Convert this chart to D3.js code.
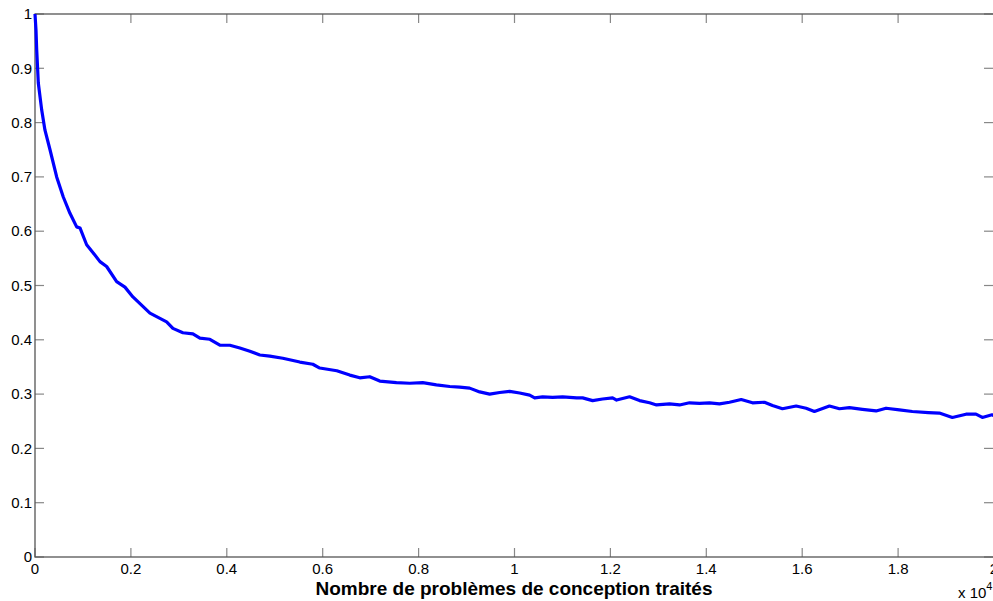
<!DOCTYPE html>
<html>
<head>
<meta charset="utf-8">
<script src="https://cdn.jsdelivr.net/npm/d3@7"></script>
<style>
  html, body { margin: 0; padding: 0; background: #fff; overflow: hidden; }
  svg { display: block; font-family: "Liberation Sans", Arial, sans-serif; }
</style>
</head>
<body>
<svg id="chart" width="993" height="601"></svg>
<script>
// Number of design problems processed
const problemsTreated = [
  0, 21, 35, 69, 140, 208, 313, 452, 590, 729, 869, 938, 1077, 1215, 1355, 1494, 1703, 1876, 2042,
  2397, 2745, 2876, 3084, 3293, 3439, 3647, 3855, 4064, 4272, 4481, 4689, 4897, 5168, 5523, 5794,
  5939, 6294, 6565, 6773, 6981, 7190, 7538, 7815, 8086, 8371, 8649,
  8857, 9065, 9274, 9482, 9691, 9899, 10108, 10316, 10420, 10587, 10795, 11004, 11296, 11421,
  11629, 11837, 12046, 12129, 12400, 12608, 12817, 12962, 13233, 13442, 13650, 13859,
  14067, 14275, 14484, 14728, 14963, 15213, 15380, 15588, 15874, 16082, 16255, 16568, 16776,
  16985, 17256, 17541, 17749, 18026, 18297, 18631, 18860, 19131, 19416, 19624, 19756, 19959, 20000
];
// Running rate after each batch of problems
const rate = [
  1.000, 0.970, 0.935, 0.873, 0.823, 0.786, 0.750, 0.700, 0.663, 0.633, 0.608, 0.606, 0.575, 0.560, 0.544, 0.535, 0.507, 0.497, 0.479,
  0.449, 0.433, 0.421, 0.413, 0.411, 0.403, 0.401, 0.390, 0.390, 0.385, 0.379, 0.372, 0.370, 0.366, 0.359, 0.355,
  0.348, 0.343, 0.335, 0.330, 0.332, 0.324, 0.321, 0.320, 0.321, 0.317, 0.314,
  0.313, 0.311, 0.304, 0.300, 0.303, 0.305, 0.302, 0.298, 0.293, 0.295, 0.294, 0.295, 0.293, 0.293,
  0.288, 0.291, 0.293, 0.289, 0.295, 0.288, 0.284, 0.280, 0.282, 0.280, 0.284, 0.283,
  0.284, 0.282, 0.285, 0.290, 0.284, 0.285, 0.279, 0.273, 0.278, 0.274, 0.268, 0.278, 0.273,
  0.275, 0.272, 0.269, 0.274, 0.271, 0.268, 0.266, 0.265, 0.257, 0.263, 0.263, 0.257, 0.262, 0.260
];

const xTickValues = [0, 2000, 4000, 6000, 8000, 10000, 12000, 14000, 16000, 18000, 20000];
const xTickLabels = ["0", "0.2", "0.4", "0.6", "0.8", "1", "1.2", "1.4", "1.6", "1.8", "2"];
const yTickValues = [0, 0.1, 0.2, 0.3, 0.4, 0.5, 0.6, 0.7, 0.8, 0.9, 1];
const yTickLabels = ["0", "0.1", "0.2", "0.3", "0.4", "0.5", "0.6", "0.7", "0.8", "0.9", "1"];
const xAxisTitle = "Nombre de problèmes de conception traités";

const svg = d3.select("#chart");
const plotLeft = 35, plotRight = 994, plotTop = 14, plotBottom = 557;

const x = d3.scaleLinear().domain([0, 20000]).range([plotLeft, plotRight]);
const y = d3.scaleLinear().domain([0, 1]).range([plotBottom, plotTop]);

const axisColor = "#555";
const tickColor = "#888";
const tickLen = 9;

// Inward ticks on all four sides
const g = svg.append("g");
xTickValues.forEach(v => {
  g.append("line").attr("x1", x(v)).attr("x2", x(v)).attr("y1", plotBottom).attr("y2", plotBottom - tickLen)
    .attr("stroke", tickColor).attr("stroke-width", 1.2);
  g.append("line").attr("x1", x(v)).attr("x2", x(v)).attr("y1", plotTop).attr("y2", plotTop + tickLen)
    .attr("stroke", tickColor).attr("stroke-width", 1.2);
});
yTickValues.forEach(v => {
  g.append("line").attr("x1", plotLeft).attr("x2", plotLeft + tickLen).attr("y1", y(v)).attr("y2", y(v))
    .attr("stroke", tickColor).attr("stroke-width", 1.2);
  g.append("line").attr("x1", plotRight).attr("x2", plotRight - tickLen - 1).attr("y1", y(v)).attr("y2", y(v))
    .attr("stroke", tickColor).attr("stroke-width", 1.2);
});

// Frame
g.append("rect").attr("x", plotLeft).attr("y", plotTop)
  .attr("width", plotRight - plotLeft).attr("height", plotBottom - plotTop)
  .attr("fill", "none").attr("stroke", axisColor).attr("stroke-width", 1.3);

// Tick labels
svg.append("g").selectAll("text").data(xTickValues).join("text")
  .attr("x", d => x(d)).attr("y", 574)
  .attr("text-anchor", "middle").attr("font-size", 15).attr("fill", "#000")
  .text((d, i) => xTickLabels[i]);

svg.append("g").selectAll("text").data(yTickValues).join("text")
  .attr("x", 32).attr("y", d => y(d)).attr("dy", "0.35em")
  .attr("text-anchor", "end").attr("font-size", 15).attr("fill", "#000")
  .text((d, i) => yTickLabels[i]);

// Exponent of the x axis
const expo = svg.append("text").attr("x", 958).attr("y", 598).attr("font-size", 15).attr("fill", "#000");
expo.append("tspan").text("x 10");
expo.append("tspan").attr("font-size", 11).attr("dy", -8).text("4");

// Axis title
svg.append("text").attr("x", 514).attr("y", 595).attr("text-anchor", "middle")
  .attr("font-size", 19).attr("font-weight", "bold").attr("fill", "#000")
  .text(xAxisTitle);

// Curve
const line = d3.line().x((d, i) => x(problemsTreated[i])).y(d => y(d));
svg.append("path").datum(rate)
  .attr("d", line)
  .attr("fill", "none").attr("stroke", "#0000ff").attr("stroke-width", 3.2)
  .attr("stroke-linejoin", "round");
</script>
</body>
</html>
